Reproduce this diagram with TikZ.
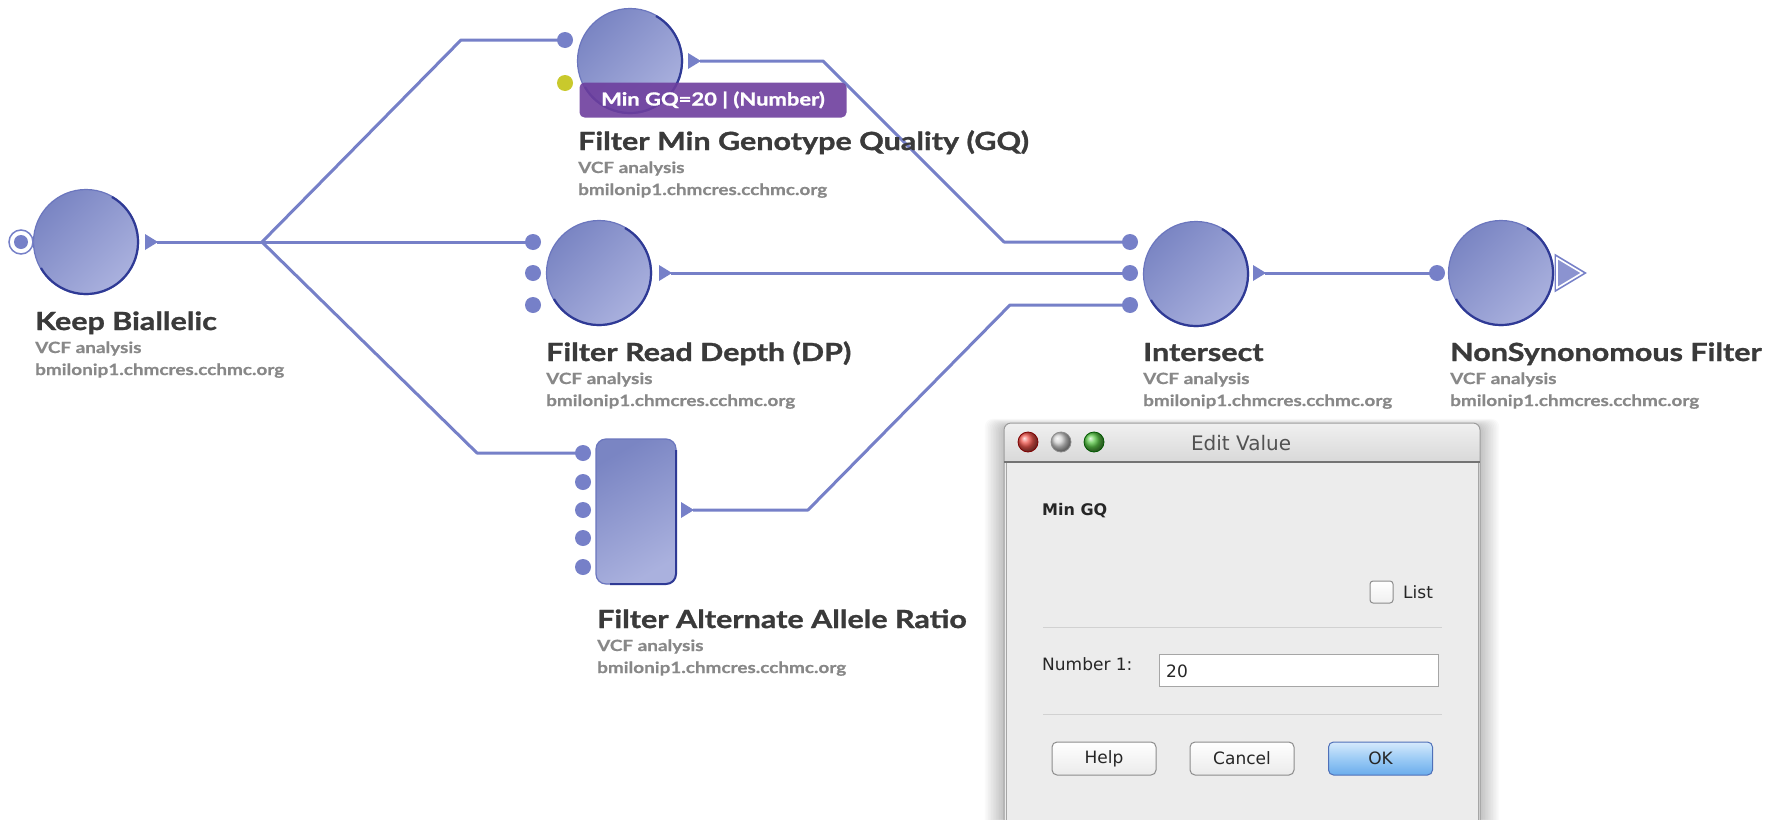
\documentclass[tikz,border=0pt]{standalone}
\usepackage{fontspec}
\usetikzlibrary{backgrounds}
\newfontfamily\tfont{Lato}[FakeStretch=1.22, BoldFeatures={FakeBold=1.2}]
\newfontfamily\sfont{Lato}[FakeStretch=1.22, BoldFeatures={FakeBold=0.6}]
\newfontfamily\dfont{DejaVu Sans}
\definecolor{linecol}{HTML}{7680C8}
\definecolor{proctop}{HTML}{7A85C3}
\definecolor{procbot}{HTML}{AAB1DE}
\definecolor{procline}{HTML}{6B76BE}
\definecolor{edgecol}{HTML}{2F3A95}
\definecolor{titlecol}{HTML}{3A3A3A}
\definecolor{subcol}{HTML}{888888}
\definecolor{gqpurple}{HTML}{6E3F9E}
\definecolor{portyellow}{HTML}{C9C92C}
\definecolor{dlgbody}{HTML}{ECECEC}
\definecolor{dlgborder}{HTML}{9C9C9C}
\definecolor{oktop}{HTML}{D6EAFC}
\definecolor{okmid}{HTML}{9CCBF5}
\definecolor{okbot}{HTML}{6AACEC}
\definecolor{okline}{HTML}{4F70B8}
\definecolor{redlight}{HTML}{F0564D}
\definecolor{greenlight}{HTML}{5CC94A}
\newcommand\myedge[2]{\draw[edgecol, line width=2.2pt] ([shift={(-60:#2)}]#1.center) arc[start angle=-60, end angle=150, radius=#2];}
\newcommand\outtri[3]{\fill[linecol] (#2,#3-8) -- (#2+13,#3) -- (#2,#3+8) -- cycle; \coordinate (#1) at (#2+12,#3);}
\newcommand\proclabel[4]{%
  \node[ttl] (#1-t) at (#2,#3) {#4};
  \node[subt] (#1-s) at (#2,#3+23) {VCF analysis};
  \node[subt] (#1-h) at (#2,#3+45) {bmilonip1.chmcres.cchmc.org};}
\begin{document}
\begin{tikzpicture}[x=1pt,y=-1pt,
  conn/.style={draw=linecol, line width=3pt, line join=round},
  port/.style={circle, fill=linecol, minimum size=16pt, inner sep=0pt},
  proc/.style={circle, minimum size=105pt, inner sep=0pt, top color=proctop, bottom color=procbot, shading angle=45, draw=procline, line width=1.2pt},
  ttl/.style={anchor=base west, inner sep=0pt, text=titlecol, font=\tfont\bfseries\fontsize{25}{30}\selectfont},
  subt/.style={anchor=base west, inner sep=0pt, text=subcol, font=\sfont\bfseries\fontsize{15.5}{18}\selectfont},
  dtext/.style={inner sep=0pt, text=black!85, font=\dfont\fontsize{17}{20}\selectfont},
  button/.style={draw=black!45, line width=1pt, rounded corners=5pt, top color=white, bottom color=black!8, minimum width=104pt, minimum height=33pt, inner sep=0pt, font=\dfont\fontsize{17}{20}\selectfont, text=black!85},
  okbutton/.style={button, draw=okline, top color=oktop, bottom color=okbot, middle color=okmid}]
\useasboundingbox (0,0) rectangle (1779,819);
\begin{scope}[on background layer]
  \fill[white] (0,0) rectangle (1779,819);
\end{scope}

% ---------- processes ----------
\node[proc] (kb) at (86,242) {};
\myedge{kb}{52}
\draw[linecol, line width=1.5pt, fill=white] (21,242) circle (12);
\node[port, minimum size=14pt] (kb-i) at (21,242) {};
\outtri{kb-o}{145}{242}

\node[proc] (gq) at (630,61) {};
\myedge{gq}{52}
\node[port] (gq-i1) at (565,40) {};
\node[port, fill=portyellow] (gq-i2) at (565,83) {};
\outtri{gq-o}{688}{61}

\node[proc] (dp) at (599,273) {};
\myedge{dp}{52}
\node[port] (dp-i1) at (533,242) {};
\node[port] (dp-i2) at (533,273) {};
\node[port] (dp-i3) at (533,305) {};
\outtri{dp-o}{659}{273}

\node[draw=procline, line width=1.2pt, rounded corners=10pt, top color=proctop, bottom color=procbot, shading angle=30, minimum width=80pt, minimum height=145pt, inner sep=0pt] (ar) at (636,511.5) {};
\draw[edgecol, line width=2pt, rounded corners=10pt] (676,450) -- (676,584) -- (610,584);
\node[port] (ar-i1) at (583,453) {};
\node[port] (ar-i2) at (583,482) {};
\node[port] (ar-i3) at (583,510) {};
\node[port] (ar-i4) at (583,538) {};
\node[port] (ar-i5) at (583,567) {};
\outtri{ar-o}{681}{510}

\node[proc] (is) at (1196,274) {};
\myedge{is}{52}
\node[port] (is-i1) at (1130,242) {};
\node[port] (is-i2) at (1130,273) {};
\node[port] (is-i3) at (1130,305) {};
\outtri{is-o}{1253}{273}

\node[proc] (ns) at (1501,273) {};
\myedge{ns}{52}
\node[port] (ns-i) at (1437,273) {};
\draw[linecol, line width=5pt, line join=miter] (1557,258) -- (1582,273) -- (1557,288) -- cycle;
\draw[white, line width=1.6pt, fill=linecol!85, line join=miter] (1557,258) -- (1582,273) -- (1557,288) -- cycle;
\coordinate (ns-o) at (1582,273);

% ---------- connectors ----------
\coordinate (br) at (262,242);
\coordinate (b1) at (461,40);
\coordinate (b2) at (477,453);
\coordinate (g1) at (823,61);
\coordinate (g2) at (1004,242);
\coordinate (a1) at (808,510);
\coordinate (a2) at (1010,305);
\begin{scope}[on background layer]
  \draw[conn] (kb-o) -- (br);
  \draw[conn] (br) -- (b1) -- (gq-i1.center);
  \draw[conn] (br) -- (dp-i1.center);
  \draw[conn] (br) -- (b2) -- (ar-i1.center);
  \draw[conn] (gq-o) -- (g1) -- (g2) -- (is-i1.center);
  \draw[conn] (dp-o) -- (is-i2.center);
  \draw[conn] (ar-o) -- (a1) -- (a2) -- (is-i3.center);
  \draw[conn] (is-o) -- (ns-i.center);
\end{scope}

% ---------- labels ----------
\proclabel{kb}{35}{330}{Keep Biallelic}
\proclabel{gq}{578}{150}{Filter Min Genotype Quality (GQ)}
\proclabel{dp}{546}{361}{Filter Read Depth (DP)}
\proclabel{ar}{597}{628}{Filter Alternate Allele Ratio}
\proclabel{is}{1143}{361}{Intersect}
\proclabel{ns}{1450}{361}{NonSynonomous Filter}

\node[fill=gqpurple, fill opacity=0.9, text opacity=1, rounded corners=5pt, minimum width=267pt, minimum height=35pt, inner sep=0pt, text=white, font=\tfont\bfseries\fontsize{18}{22}\selectfont] (gq-lab) at (713,100) {Min GQ=20 | (Number)};

% ---------- dialog ----------
\foreach \i in {1,...,12}
  \fill[black, opacity=0.02, rounded corners=8pt] (1004-\i*1.6,423-\i*0.6+3) rectangle (1480+\i*1.6,840);
\fill[dlgbody] (1004,455) rectangle (1480,830);
\shade[top color=black!6, bottom color=black!17, rounded corners=7pt] (1004,423) rectangle (1480,470);
\fill[dlgbody] (1004,462) rectangle (1480,830);
\draw[dlgborder, line width=1pt, rounded corners=7pt] (1004,830) -- (1004,423) -- (1480,423) -- (1480,830);
\draw[black!55, line width=1.5pt] (1004,462) -- (1480,462);
\draw[black!35, line width=1pt] (1006,463) -- (1006,830);
\draw[black!35, line width=1pt] (1478,463) -- (1478,830);

\shade[ball color=redlight] (1028,442) circle (10);
\draw[red!50!black, line width=0.8pt] (1028,442) circle (10);
\shade[ball color=black!18] (1061,442) circle (10);
\draw[black!45, line width=0.8pt] (1061,442) circle (10);
\shade[ball color=greenlight] (1094,442) circle (10);
\draw[green!35!black, line width=0.8pt] (1094,442) circle (10);
\node[inner sep=0pt, text=black!68, font=\dfont\fontsize{20}{24}\selectfont] (dlg-title) at (1241,443) {Edit Value};

\node[dtext, anchor=base west, font=\dfont\bfseries\fontsize{16}{20}\selectfont] (dlg-min) at (1042,515) {Min GQ};
\draw[black!45, line width=1pt, rounded corners=3pt, top color=white, bottom color=black!6] (1370,581) rectangle (1393,603);
\node[dtext, anchor=base west] (dlg-list) at (1403,598) {List};
\draw[black!18, line width=1pt] (1043,627) -- (1442,627);
\node[dtext, anchor=base west] (dlg-num) at (1042,670) {Number 1:};
\draw[black!35, line width=1pt, fill=white] (1159,654) rectangle (1438,686);
\node[dtext, anchor=base west] (dlg-val) at (1166,677) {20};
\draw[black!18, line width=1pt] (1043,714) -- (1442,714);
\node[button] (help) at (1104,758.5) {Help};
\node[button] (cancel) at (1242,758.5) {Cancel};
\node[okbutton] (ok) at (1380.5,758.5) {OK};
\end{tikzpicture}
\end{document}
